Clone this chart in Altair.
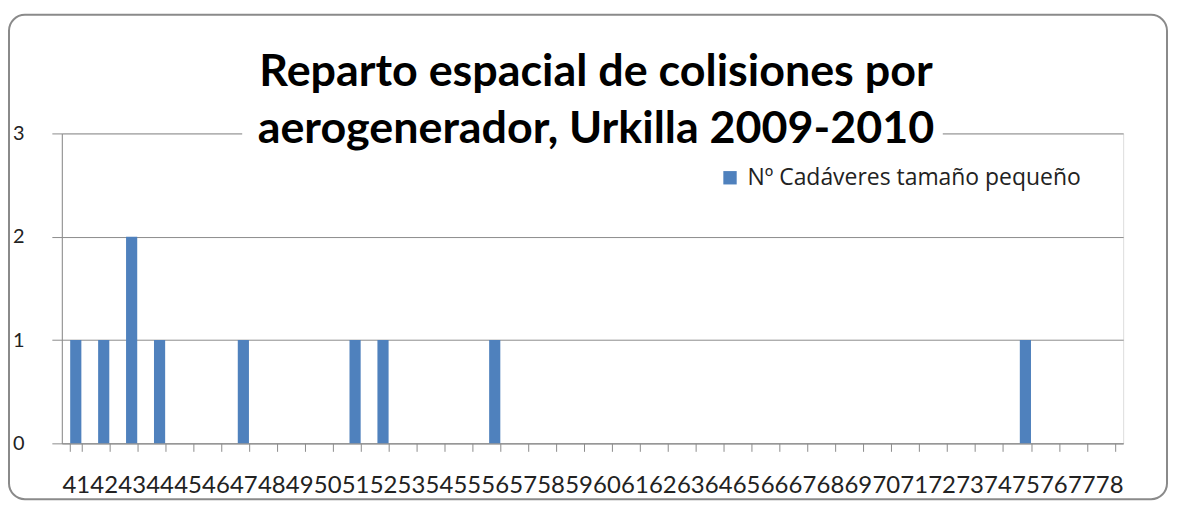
import altair as alt
import pandas as pd

categories = [str(i) for i in range(41, 79)]
counts_map = {"41": 1, "42": 1, "43": 2, "44": 1, "47": 1, "51": 1, "52": 1, "56": 1, "75": 1}
values = [counts_map.get(c, 0) for c in categories]
series_name = "Nº Cadáveres tamaño pequeño"
title_lines = ["Reparto espacial de colisiones por", "aerogenerador, Urkilla 2009-2010"]

df = pd.DataFrame({"cat": categories, "val": values, "serie": [series_name] * len(categories)})

W, H = 1065, 311
FONT = "Lato"
GRID = "#8c8c8c"

one = alt.Data(values=[{"a": 1}])

frame = alt.Chart(one).mark_rect(
    fill="transparent", stroke="#8a8a8a", strokeWidth=2, cornerRadius=16
).encode(
    x=alt.value(-53), x2=alt.value(1109), y=alt.value(-119), y2=alt.value(367)
)

bars = alt.Chart(df).mark_bar(color="#4F81BD").encode(
    x=alt.X("cat:N", sort=categories,
            scale=alt.Scale(paddingInner=0.6, paddingOuter=0.3),
            axis=alt.Axis(title=None, labelAngle=0, labelFontSize=24, labelFont=FONT,
                          labelColor="#222222", domainColor=GRID, tickColor=GRID,
                          tickSize=8, tickBand="extent", labelPadding=22, grid=False,
                          labelOverlap=False)),
    y=alt.Y("val:Q", scale=alt.Scale(domain=[0, 3]),
            axis=alt.Axis(title=None, values=[0, 1, 2, 3], format="d", labelFontSize=20,
                          labelFont=FONT, labelColor="#222222", domainColor=GRID,
                          tickColor=GRID, tickSize=10, gridColor=GRID, labelPadding=28)),
    color=alt.Color("serie:N", scale=alt.Scale(range=["#4F81BD"]),
                    legend=alt.Legend(title=None, orient="none", legendX=659, legendY=33,
                                      symbolType="square", symbolSize=180, labelLimit=500,
                                      labelFontSize=23, labelFont="Open Sans",
                                      labelColor="#222222", symbolStrokeWidth=0,
                                      labelOffset=6)),
)

mask = alt.Chart(one).mark_rect(fill="white").encode(
    x=alt.value(181), x2=alt.value(884), y=alt.value(-8), y2=alt.value(8)
)

title = alt.Chart(one).mark_text(
    text=title_lines, font=FONT, fontWeight="bold", fontSize=45, lineHeight=58,
    color="black", align="center", baseline="alphabetic"
).encode(x=alt.value(536), y=alt.value(-48))

chart = alt.layer(frame, bars, mask, title).properties(
    width=W, height=H,
    autosize=alt.AutoSizeParams(type="none"),
    padding={"left": 54, "top": 125, "right": 46, "bottom": 58},
).configure_view(stroke=None).configure(background="white")

chart.save("out.html", embed_options={"renderer": "svg", "actions": False})
